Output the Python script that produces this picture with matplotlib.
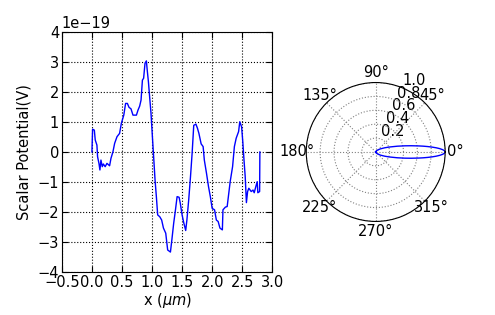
import numpy as np
import matplotlib
matplotlib.use('Agg')
import matplotlib.pyplot as plt

# scalar potential trace (x in um, value in units of 1e-19 V)
x_um = [0.0, 0.011, 0.04, 0.055, 0.083, 0.094, 0.117, 0.133, 0.15, 0.172, 0.19,
        0.22, 0.25, 0.294, 0.317, 0.35, 0.378, 0.417, 0.46, 0.49, 0.53, 0.56,
        0.59, 0.617, 0.65, 0.683, 0.74, 0.767, 0.794, 0.817, 0.84, 0.86, 0.883,
        0.906, 0.92, 0.94, 0.96, 0.983, 1.006, 1.03, 1.05, 1.072, 1.094, 1.128,
        1.16, 1.19, 1.228, 1.26, 1.306, 1.33, 1.36, 1.39, 1.417, 1.45, 1.47,
        1.5, 1.53, 1.56, 1.58, 1.61, 1.64, 1.667, 1.694, 1.73, 1.756, 1.78,
        1.817, 1.85, 1.87, 1.906, 1.94, 1.97, 2.0, 2.04, 2.07, 2.1, 2.13, 2.17,
        2.18, 2.22, 2.25, 2.27, 2.3, 2.34, 2.37, 2.4, 2.44, 2.46, 2.49, 2.51,
        2.53, 2.55, 2.57, 2.59, 2.61, 2.65, 2.68, 2.7, 2.73, 2.75, 2.76, 2.79,
        2.794]
potential = [0.0, 0.76, 0.73, 0.4, 0.23, -0.16, -0.38, -0.6, -0.27, -0.49, -0.4,
             -0.49, -0.38, -0.46, -0.21, 0.01, 0.29, 0.51, 0.62, 0.96, 1.23, 1.62,
             1.62, 1.49, 1.44, 1.23, 1.23, 1.4, 1.53, 1.73, 2.4, 2.46, 2.96,
             3.04, 2.73, 2.34, 1.84, 1.29, 0.51, -0.27, -0.93, -1.49, -2.1, -2.16,
             -2.27, -2.54, -2.71, -3.27, -3.34, -2.93, -2.38, -1.93, -1.49, -1.51, -1.71,
             -2.1, -2.38, -2.62, -2.27, -1.6, -0.82, -0.04, 0.89, 0.93, 0.79, 0.62,
             0.27, 0.18, -0.27, -0.71, -1.16, -1.49, -1.88, -1.93, -2.27, -2.32, -2.54, -2.6,
             -1.93, -1.84, -1.82, -1.49, -0.99, -0.49, 0.18, 0.46, 0.68, 1.01, 0.84, 0.34,
             -0.27, -0.82, -1.69, -1.32, -1.21, -1.32, -1.27, -1.36, -1.13, -0.99, -1.36, -1.32,
             0.0]

# radiation pattern lobe (angle in degrees, normalised radius)
lobe_deg = [-90, -60, -35, -25, -20, -15, -12, -10, -8, -7, -6, -5, -4, -3, -2, -1,
            0, 1, 2, 3, 4, 5, 6, 7, 8, 10, 12, 15, 20, 25, 35, 60, 90]
lobe_r = [0.0, 0.021, 0.076, 0.143, 0.209, 0.322, 0.427, 0.518, 0.627, 0.688, 0.750,
          0.812, 0.871, 0.923, 0.964, 0.991,
          1.0, 0.991, 0.964, 0.923, 0.871, 0.812, 0.750, 0.688, 0.627, 0.518, 0.427,
          0.322, 0.209, 0.143, 0.076, 0.021, 0.0]

plt.rcParams['font.size'] = 10.5
plt.rcParams['xtick.direction'] = 'in'
plt.rcParams['ytick.direction'] = 'in'

fig = plt.figure(figsize=(4.95, 3.15), dpi=100)

ax = fig.add_axes([0.125, 0.137, 0.425, 0.761])
ax.plot(x_um, np.array(potential) * 1e-19, color='blue', lw=1)
ax.set_xlim(-0.5, 3.0)
ax.set_ylim(-4e-19, 4e-19)
ax.set_xticks(np.arange(-0.5, 3.01, 0.5))
ax.set_xticklabels(['\u22120.5', '0.0', '0.5', '1.0', '1.5', '2.0', '2.5', '3.0'])
ax.grid(True, color='black', linestyle=':', lw=0.8)
ax.tick_params(top=True, right=True, pad=2, length=4)
ax.set_xlabel(r'x ($\mu m$)', labelpad=1)
ax.set_ylabel('Scalar Potential(V)')

axp = fig.add_axes([0.618, 0.297, 0.282, 0.441], projection='polar')
axp.plot(np.deg2rad(lobe_deg), lobe_r, color='blue', lw=1)
axp.set_ylim(0, 1.0)
axp.set_rticks([0.2, 0.4, 0.6, 0.8, 1.0])
axp.set_rlabel_position(67.5)
axp.grid(True, color='gray', linestyle=':', lw=0.8)
axp.tick_params(pad=0)

fig.savefig('out.png', dpi=100)
